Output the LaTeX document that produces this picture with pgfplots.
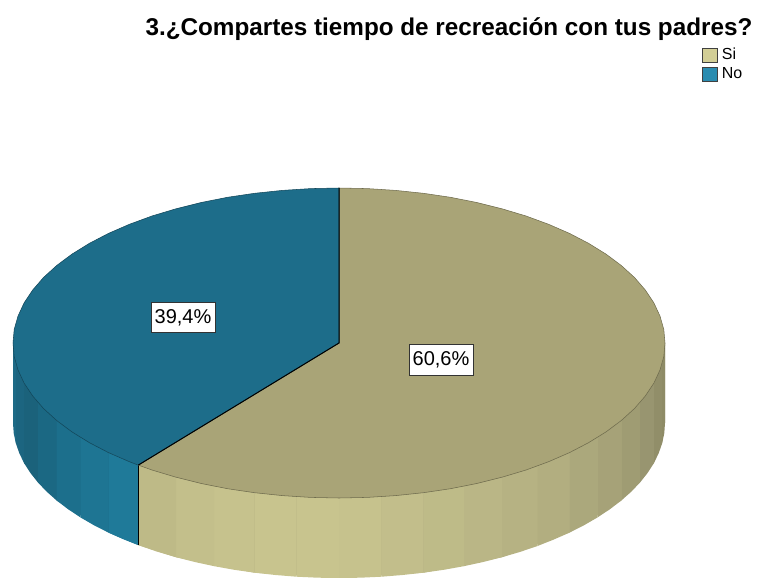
\documentclass[border=0pt]{standalone}
\usepackage{fontspec}
\setmainfont{Liberation Sans}
\usepackage{pgfplots}
\pgfplotsset{compat=1.18}

\definecolor{tantop}{HTML}{A9A477}
\definecolor{bluetop}{HTML}{1D6D8A}
\definecolor{tanleg}{HTML}{D2CE96}
\definecolor{blueleg}{HTML}{2A8CB0}

\pgfplotsset{
  band/.style={forget plot,/utils/exec={\definecolor{bc}{HTML}{#1}},draw=none,fill=bc},
}

\begin{document}
\begin{tikzpicture}
\useasboundingbox (0,0) rectangle (576pt,433.5pt);
\begin{axis}[
  at={(0,0)},anchor=south west,
  scale only axis,
  width=576pt,height=433.5pt,
  xmin=0,xmax=768,ymin=0,ymax=578,
  y dir=reverse,
  hide axis,
  clip=false,
  legend image code/.code={\draw[#1] (0pt,-5.25pt) rectangle (11.25pt,5.25pt);},
  legend style={at={(axis cs:702,47)},anchor=north west,draw=none,fill=none,
    inner sep=0pt,outer sep=0pt,font=\fontsize{12}{12}\selectfont,
    row sep=2.25pt,
    nodes={inner xsep=3pt,inner ysep=0pt,text height=9pt,text depth=3pt}},
  legend cell align=left,
]
% underlay, so that no white shows between the bands
\addplot[band=B2AE80] coordinates {(665,343)(653.9,383.1)(621.3,420.5)(569.5,452.6)(502,477.2)(423.4,492.7)(339,498)(254.6,492.7)(176,477.2)(138.3,465.1)
  (138.3,545.1)(176,557.2)(254.6,572.7)(339,578)(423.4,572.7)(502,557.2)(569.5,532.6)(621.3,500.5)(653.9,463.1)(665,423)} --cycle;
\addplot[band=1C6C88] coordinates {(138.3,465.1)(108.5,452.6)(56.7,420.5)(24.1,383.1)(13,343)(13,423)(24.1,463.1)(56.7,500.5)(108.5,532.6)(138.3,545.1)} --cycle;
% side wall, tan part, right to left
\addplot[band=8E8B66] coordinates {(665,343)(662.2,363.2)(662.2,443.2)(664.3,433.1)(665,423)} --cycle;
\addplot[band=918E69] coordinates {(662.2,363.2)(653.9,383.1)(653.9,463.1)(658.7,453.2)(662.2,443.2)} --cycle;
\addplot[band=989570] coordinates {(653.9,383.1)(640.2,402.3)(640.2,482.3)(647.7,472.8)(653.9,463.1)} --cycle;
\addplot[band=9F9C73] coordinates {(640.2,402.3)(621.3,420.5)(621.3,500.5)(631.4,491.6)(640.2,482.3)} --cycle;
\addplot[band=A6A278] coordinates {(621.3,420.5)(597.6,437.4)(597.6,517.4)(610.1,509.1)(621.3,500.5)} --cycle;
\addplot[band=ABA87C] coordinates {(597.6,437.4)(569.5,452.6)(569.5,532.6)(584.1,525.2)(597.6,517.4)} --cycle;
\addplot[band=B2AE80] coordinates {(569.5,452.6)(537.5,466)(537.5,546)(553.9,539.5)(569.5,532.6)} --cycle;
\addplot[band=B6B283] coordinates {(537.5,466)(502,477.2)(502,557.2)(520.1,551.9)(537.5,546)} --cycle;
\addplot[band=BAB686] coordinates {(502,477.2)(463.8,486.2)(463.8,566.2)(483.2,562)(502,557.2)} --cycle;
\addplot[band=BEBB88] coordinates {(463.8,486.2)(423.4,492.7)(423.4,572.7)(443.8,569.8)(463.8,566.2)} --cycle;
\addplot[band=C2BE8B] coordinates {(423.4,492.7)(381.5,496.7)(381.5,576.7)(402.6,575)(423.4,572.7)} --cycle;
\addplot[band=C6C28D] coordinates {(381.5,496.7)(339,498)(339,578)(360.3,577.7)(381.5,576.7)} --cycle;
\addplot[band=C8C48E] coordinates {(339,498)(296.5,496.7)(296.5,576.7)(317.7,577.7)(339,578)} --cycle;
\addplot[band=C8C48E] coordinates {(296.5,496.7)(254.6,492.7)(254.6,572.7)(275.4,575)(296.5,576.7)} --cycle;
\addplot[band=C6C28D] coordinates {(254.6,492.7)(214.2,486.2)(214.2,566.2)(234.2,569.8)(254.6,572.7)} --cycle;
\addplot[band=C3BF8B] coordinates {(214.2,486.2)(176,477.2)(176,557.2)(194.8,562)(214.2,566.2)} --cycle;
\addplot[band=BEBA87] coordinates {(176,477.2)(138.3,465.1)(138.3,545.1)(156.7,551.5)(176,557.2)} --cycle;
% side wall, blue part
\addplot[band=1F7A99] coordinates {(138.3,465.1)(108.5,452.6)(108.5,532.6)(123,539.1)(138.3,545.1)} --cycle;
\addplot[band=1E7593] coordinates {(108.5,452.6)(80.4,437.4)(80.4,517.4)(93.9,525.2)(108.5,532.6)} --cycle;
\addplot[band=1C6F8C] coordinates {(80.4,437.4)(56.7,420.5)(56.7,500.5)(67.9,509.1)(80.4,517.4)} --cycle;
\addplot[band=1B6883] coordinates {(56.7,420.5)(37.8,402.3)(37.8,482.3)(46.6,491.6)(56.7,500.5)} --cycle;
\addplot[band=1B627B] coordinates {(37.8,402.3)(24.1,383.1)(24.1,463.1)(30.3,472.8)(37.8,482.3)} --cycle;
\addplot[band=1C6580] coordinates {(24.1,383.1)(15.8,363.2)(15.8,443.2)(19.3,453.2)(24.1,463.1)} --cycle;
\addplot[band=1D6A86] coordinates {(15.8,363.2)(13,343)(13,423)(13.7,433.1)(15.8,443.2)} --cycle;
% boundary edge of the wall
\addplot[forget plot,black,line width=0.75pt] coordinates {(138.3,465.1)(138.3,545.1)};
% top face: Si 60,6
\addplot[forget plot,fill=tantop,draw=black!35!tantop,line width=0.4pt] coordinates {
  (339,343)(339,188)(367.4,188.6)(395.6,190.4)(423.4,193.3)(450.5,197.3)(476.8,202.5)
  (502,208.8)(526,216)(548.6,224.3)(569.5,233.4)(588.7,243.4)(606,254.1)(621.3,265.5)
  (634.5,277.5)(645.3,290)(653.9,302.9)(660,316.1)(663.8,329.5)(665,343)(663.8,356.5)
  (660,369.9)(653.9,383.1)(645.3,396)(634.5,408.5)(621.3,420.5)(606,431.9)(588.7,442.6)
  (569.5,452.6)(548.6,461.7)(526,470)(502,477.2)(476.8,483.5)(450.5,488.7)(423.4,492.7)
  (395.6,495.6)(367.4,497.4)(339,498)(310.6,497.4)(282.4,495.6)(254.6,492.7)(227.5,488.7)
  (201.2,483.5)(176,477.2)(152,470)(138.3,465.1)} --cycle;
% top face: No 39,4
\addplot[forget plot,fill=bluetop,draw=black!35!bluetop,line width=0.4pt] coordinates {
  (339,343)(138.3,465.1)(129.4,461.7)(108.5,452.6)(89.3,442.6)(72,431.9)(56.7,420.5)
  (43.5,408.5)(32.7,396)(24.1,383.1)(18,369.9)(14.2,356.5)(13,343)(14.2,329.5)(18,316.1)
  (24.1,302.9)(32.7,290)(43.5,277.5)(56.7,265.5)(72,254.1)(89.3,243.4)(108.5,233.4)
  (129.4,224.3)(152,216)(176,208.8)(201.2,202.5)(227.5,197.3)(254.6,193.3)(282.4,190.4)
  (310.6,188.6)(339,188)} --cycle;
% radial edges
\addplot[forget plot,black,line width=0.75pt] coordinates {(339,188)(339,343)(138.3,465.1)};

\addlegendimage{draw=black!75,line width=0.7pt,fill=tanleg}
\addlegendentry{Si}
\addlegendimage{draw=black!75,line width=0.7pt,fill=blueleg}
\addlegendentry{No}

\node[font=\bfseries\fontsize{18.2}{20}\selectfont,anchor=base] at (axis cs:449,36)
  {3.¿Compartes tiempo de recreación con tus padres?};
\node[draw=black!80,fill=white,line width=0.7pt,minimum width=48pt,minimum height=23pt,
  inner sep=0pt,font=\fontsize{15}{18}\selectfont] at (axis cs:183,317.5) {39,4\%};
\node[draw=black!80,fill=white,line width=0.7pt,minimum width=48pt,minimum height=23pt,
  inner sep=0pt,font=\fontsize{15}{18}\selectfont] at (axis cs:441,360) {60,6\%};
\end{axis}
\end{tikzpicture}
\end{document}
